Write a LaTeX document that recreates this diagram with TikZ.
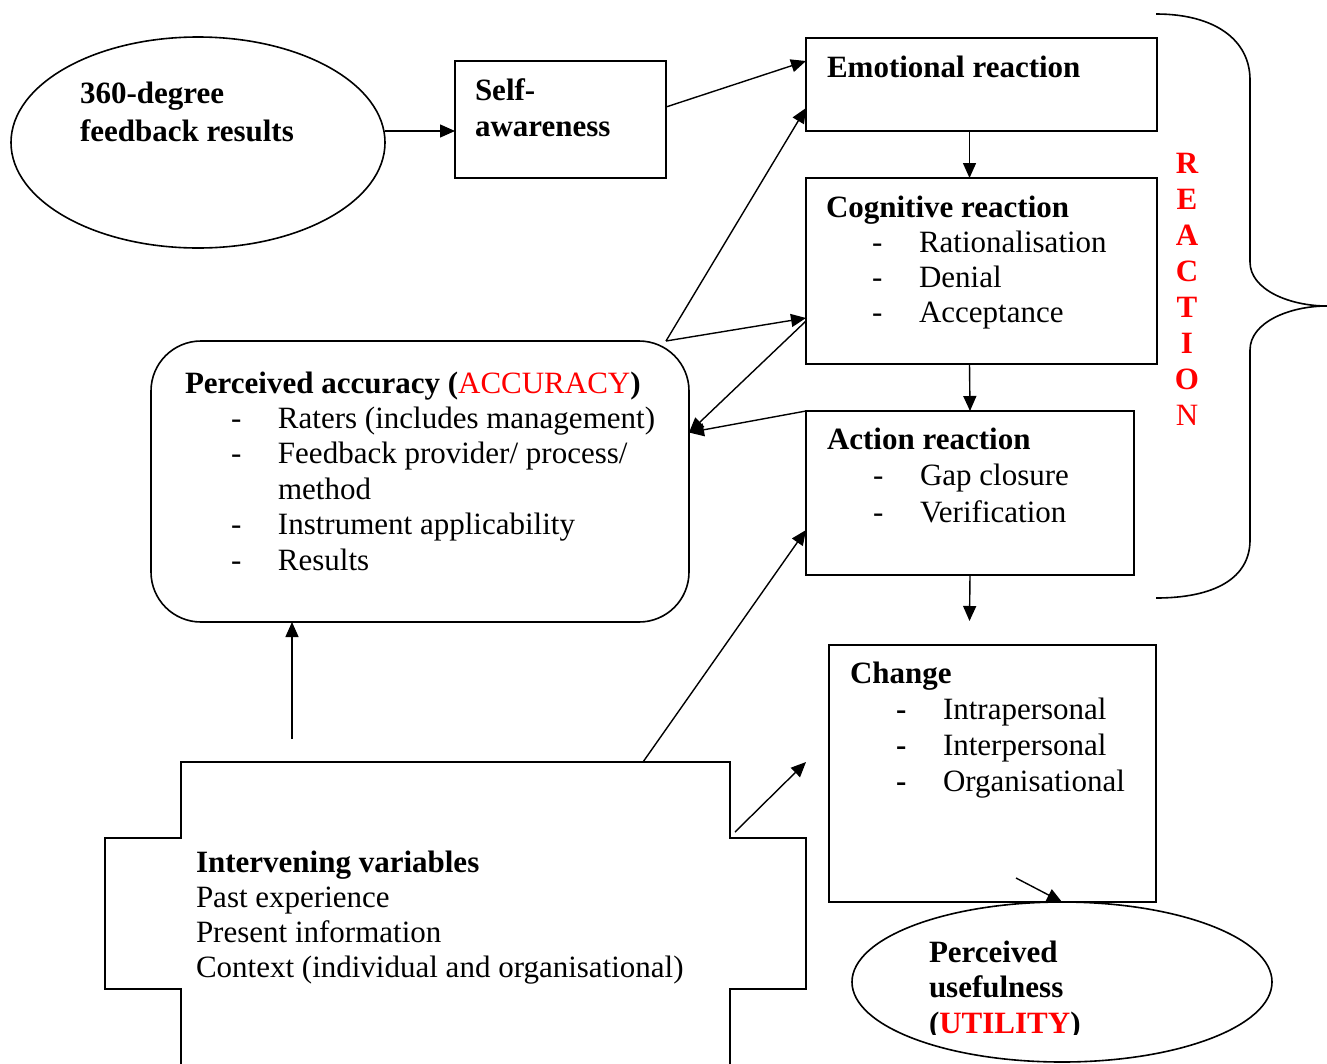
\documentclass[tikz,border=0pt]{standalone}
\usepackage{fontspec}
\setmainfont{Liberation Serif}
\usetikzlibrary{arrows.meta,calc,shapes.geometric}
\definecolor{accred}{RGB}{255,0,0}
\newcommand\blk[2]{\fontsize{31}{#1}\selectfont\begin{tabular}[t]{@{}l@{}}#2\end{tabular}}
\newcommand\itm[1]{\makebox[93pt][l]{\hspace*{46pt}-}#1}
\newcommand\itmb[1]{\makebox[93pt][l]{\hspace*{46pt}\textbf{-}}#1}
\begin{document}
\begin{tikzpicture}[x=1pt,y=-1pt, line width=1.6pt,
  box/.style={draw, rectangle, inner sep=0pt, outer sep=0pt, anchor=north west},
  oval/.style={draw, ellipse, inner sep=0pt, outer sep=0pt},
  txt/.style={anchor=base west, inner sep=0pt, outer sep=0pt},
  arr/.style={-{Triangle[length=15pt,width=13pt]}, line width=1.4pt},
  ln/.style={line width=1.4pt}]
\useasboundingbox (0,0) rectangle (1327,1063);
\clip (0,0) rectangle (1327,1063);

% shapes
\node[oval, minimum width=374pt, minimum height=211pt] (e360) at (198,142.5) {};
\node[box, minimum width=211pt, minimum height=117pt] (sa) at (455,61) {};
\node[box, minimum width=351pt, minimum height=93pt] (emo) at (806,38) {};
\node[box, minimum width=351pt, minimum height=186pt] (cog) at (806,178) {};
\node[box, minimum width=328pt, minimum height=164pt] (act) at (806,411) {};
\node[box, minimum width=327pt, minimum height=257pt] (chg) at (829,645) {};
\node[oval, minimum width=420pt, minimum height=160pt] (pu) at (1062,982) {};
\node[box, rounded corners=50pt, minimum width=538pt, minimum height=281pt] (acc) at (151,341) {};

% intervening variables shape (open at the bottom)
\draw (181,1075) -- (181,989) -- (105,989) -- (105,838) -- (181,838) -- (181,762)
  -- (730,762) -- (730,838) -- (806,838) -- (806,989) -- (730,989) -- (730,1075);

% brace
\draw (1156,14) .. controls (1215,14) and (1250,40) .. (1250,80)
  -- (1250,262) .. controls (1250,290) and (1290,306) .. (1327,306)
  .. controls (1290,306) and (1250,322) .. (1250,350)
  -- (1250,540) .. controls (1250,578) and (1215,598) .. (1156,598);

% texts
\node[txt] (t360) at (80,103) {\blk{38}{\textbf{360-degree}\\\textbf{feedback results}}};
\node[txt] (tsa) at (475,100) {\blk{36}{\textbf{Self-}\\\textbf{awareness}}};
\node[txt] (temo) at (827,77) {\blk{36}{\textbf{Emotional reaction}}};
\node[txt] (tcog) at (826,217) {\blk{35}{\textbf{Cognitive reaction}\\\itm{Rationalisation}\\\itm{Denial}\\\itm{Acceptance}}};
\node[txt] (tact) at (827,449) {\blk{36.5}{\textbf{Action reaction}\\\itm{Gap closure}\\\itm{Verification}}};
\node[txt] (tacc) at (185,393) {\blk{35.4}{\textbf{Perceived accuracy (}\textcolor{accred}{ACCURACY}\textbf{)}\\\itm{Raters (includes management)}\\\itm{Feedback provider/ process/}\\\hspace*{93pt}method\\\itm{Instrument applicability}\\\itm{Results}}};
\node[txt] (tchg) at (850,683) {\blk{36}{\textbf{Change}\\\itmb{Intrapersonal}\\\itmb{Interpersonal}\\\itmb{Organisational}}};
\node[txt] (tiv) at (196,872) {\blk{35}{\textbf{Intervening variables}\\Past experience\\Present information\\Context (individual and organisational)}};
\node[anchor=base, inner sep=0pt, text=accred] (treac) at (1187,173)
  {\fontsize{31}{36}\selectfont\bfseries\begin{tabular}[t]{@{}c@{}}R\\E\\A\\C\\T\\I\\O\\\mdseries N\end{tabular}};
\begin{scope}
  \clip (900,900) rectangle (1200,1034);
  \node[txt] (tpu) at (929,962) {\blk{35.5}{\textbf{Perceived}\\\textbf{usefulness}\\\textbf{(\textcolor{accred}{UTILITY})}}};
\end{scope}

% connector points
\coordinate (accp) at ([xshift=-23pt]acc.north east);
\coordinate (ivtop) at (292,739);
\coordinate (ivp) at (643,762);
\coordinate (ivq) at (735,832);
\coordinate (chgin) at (806,762);
\coordinate (actend) at (969.5,621);
\coordinate (chp) at (1016,878);

% connectors
\draw[arr] ([yshift=11.5pt]e360.east) -- ([yshift=-11.5pt]sa.west);
\draw[arr] ([yshift=12.5pt]sa.east) -- ([yshift=-23pt]emo.north west);
\draw[arr] ([xshift=-12pt]emo.south) -- ([xshift=-12pt]cog.north);
\draw[arr] ([xshift=-12pt]cog.south) -- (act.north);
\draw[arr] (act.south) -- (actend);
\draw[arr] (accp) -- ([yshift=23pt]emo.south west);
\draw[arr] (accp) -- ([yshift=46pt]cog.south west);
\draw[arr] ([yshift=43pt]cog.south west) -- ([yshift=49pt]acc.east);
\draw[arr] (act.north west) -- ([yshift=49pt]acc.east);
\draw[arr] (ivtop) -- (ivtop |- acc.south);
\draw[arr] (ivp) -- ([yshift=45pt]act.south west);
\draw[arr] (ivq) -- (chgin);
\draw[arr] (chp) -- (pu.north);
\end{tikzpicture}
\end{document}
